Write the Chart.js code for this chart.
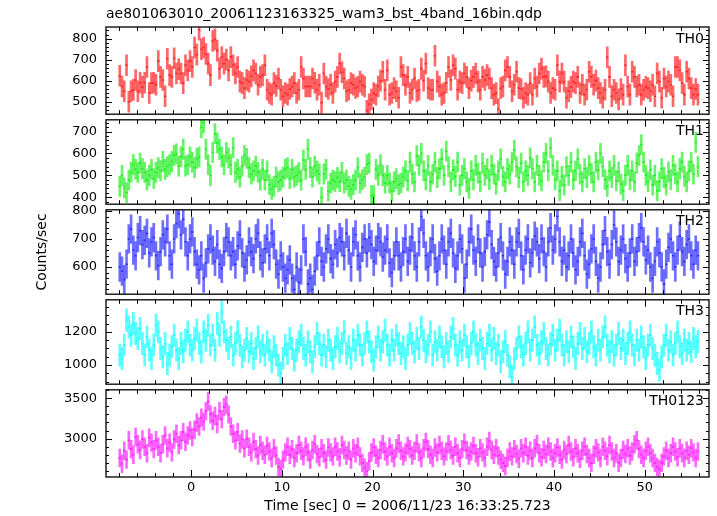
<!DOCTYPE html>
<html><head><meta charset="utf-8">
<script src="https://cdn.jsdelivr.net/npm/chart.js@4.4.1/dist/chart.umd.min.js"></script>
<style>
html,body{margin:0;padding:0;background:#fff;}
#wrap{position:relative;width:717px;height:516px;overflow:hidden;background:#fff;}
#wrap canvas{position:absolute;left:0;}
</style></head><body><div id="wrap"></div>
<script>
// ---------- data ----------
const chartTitle = "ae801063010_20061123163325_wam3_bst_4band_16bin.qdp";
const xAxisTitle = "Time [sec] 0 = 2006/11/23 16:33:25.723";
const yAxisTitle = "Counts/sec";
const bandNames = ["TH0", "TH1", "TH2", "TH3", "TH0123"];
const timeStart = -8;      // start of first bin (s)
const binWidth = 0.25;     // bin width (s)
const th0 = [
623,572,549,673,499,549,556,603,549,590,570,
590,665,541,588,590,580,693,618,603,525,
704,626,618,707,634,655,
634,588,673,649,693,
665,758,724,843,750,758,727,681,626,789,
797,743,657,712,681,700,
649,712,673,634,665,
595,588,564,603,595,620,
649,634,580,618,626,
673,556,541,533,588,575,
610,556,525,541,533,560,
572,588,541,556,665,610,572,572,572,610,590,
556,580,495,634,572,560,
580,541,595,618,681,640,
610,549,556,588,580,565,
572,595,580,572,456,
487,510,541,533,572,600,
642,556,649,533,541,564,549,518,665,626,
580,618,541,556,610,549,556,657,600,681,564,
556,556,719,595,572,533,541,590,665,603,673,
657,556,595,588,634,618,564,600,618,634,595,
556,618,603,626,610,564,533,540,463,564,572,
649,665,618,549,580,642,564,560,518,541,533,
588,533,610,572,634,657,618,620,595,541,564,
556,673,595,634,595,518,549,570,595,588,618,
541,580,533,556,642,618,580,600,564,541,518,
556,711,618,525,556,541,510,560,533,673,572,
533,642,618,572,580,533,556,570,564,549,580,
525,634,595,518,610,572,595,580,525,665,665,
649,588,533,642,610,564,533,560,533
];
const th1 = [
450,499,443,421,478,513,549,527,513,556,530,
513,478,499,527,485,513,535,520,563,527,540,
549,563,591,598,542,584,619,542,549,584,560,
535,577,584,718,740,619,549,499,605,690,
648,619,584,549,605,580,549,626,513,527,492,
542,591,577,535,506,520,542,513,478,527,478,
520,457,436,450,492,470,478,492,527,535,485,
527,492,500,513,478,570,527,619,535,492,542,520,
506,400,506,527,428,464,478,471,490,471,513,
464,478,450,436,457,478,535,464,480,492,549,
556,407,407,527,500,549,499,464,499,464,428,470,
485,457,464,492,
520,475,560,505,470,590,545,600,520,480,545,470,505,560,490,530,
575,500,610,540,470,525,495,560,455,500,530,470,440,520,480,545,
510,470,555,500,530,480,545,505,460,520,575,495,470,530,505,560,
615,540,490,555,470,520,500,580,530,470,545,500,475,560,600,520,
625,545,480,520,430,495,455,540,500,560,480,520,575,505,470,530,
490,545,510,470,560,525,600,540,480,450,520,490,545,475,515,460,
430,500,545,480,520,470,555,590,640,560,500,470,525,455,500,430,
470,530,490,455,515,480,545,505,470,530,560,495,470,520,560,505,
650,540
];
const th2 = [
600,585,555,610,700,735,660,640,705,730,680,695,720,650,690,705,
640,605,655,715,690,735,640,610,700,755,790,715,770,690,640,700,
725,655,610,590,640,560,615,665,700,660,620,680,610,595,655,705,
690,640,655,610,675,715,650,600,625,690,655,630,700,720,640,615,
665,700,640,720,680,610,575,640,600,560,590,625,560,520,600,545,
590,700,655,540,560,520,585,640,690,620,600,665,700,630,610,680,
650,705,690,640,720,660,600,690,715,640,600,670,700,650,705,680,
620,660,705,690,635,660,700,615,580,640,690,640,600,655,700,620,
660,705,640,600,690,780,720,640,600,655,700,630,585,640,700,660,
610,690,720,650,595,640,700,665,560,610,690,735,660,620,700,650,
600,655,715,760,680,620,600,650,705,640,575,620,690,660,610,690,
720,640,590,660,700,615,650,710,690,630,700,655,600,690,740,660,
700,780,690,620,660,600,640,700,650,590,620,690,720,640,575,610,
665,700,620,560,600,680,730,655,610,680,750,690,620,660,700,630,
600,650,700,620,655,705,740,690,625,660,600,560,620,690,650,600,
540,610,670,700,640,600,660,710,655,620,680,700,640,610,660,640
];
const th3 = [
1060,1040,1120,1270,1230,1180,1250,1190,1160,1220,1130,1060,1170,1090,1040,1120,
1240,1200,1100,1050,1130,1010,1060,1110,1180,1090,1040,1130,1080,1150,1200,1120,
1090,1160,1210,1130,1080,1200,1150,1240,1120,1180,1090,1250,1180,1320,1200,1150,
1100,1170,1060,1130,1200,1120,1050,1090,1160,1080,1130,1040,1100,1170,1080,1120,
1060,1140,1090,1020,1110,1060,1000,950,1040,1120,1070,1160,1100,1030,1090,1140,
1180,1100,1060,1140,1080,1020,1110,1190,1130,1060,1120,1050,1150,1090,1040,1110,
1160,1080,1130,1200,1070,1110,1040,1150,1090,1180,1120,1060,1130,1200,1140,1080,
1030,1110,1170,1090,1140,1210,1120,1060,1150,1090,1180,1130,1070,1110,1040,1120,
1190,1130,1080,1160,1100,1230,1150,1080,1120,1200,1060,1140,1090,1170,1110,1050,
1130,1080,1170,1220,1120,1060,1140,1090,1180,1110,1050,1130,1200,1120,1070,1150,
1100,1040,1130,1180,1090,1160,1070,1120,1020,1080,1140,1060,990,930,1040,1100,
1170,1110,1060,1130,1200,1090,1150,1230,1120,1070,1140,1190,1100,1060,1130,1180,
1090,1150,1210,1120,1060,1140,1080,1170,1110,1040,1130,1190,1100,1160,1080,1130,
1200,1110,1060,1150,1090,1170,1230,1120,1080,1140,1060,1120,1190,1100,1150,1070,
1130,1200,1120,1060,1150,1090,1170,1110,1040,1120,1180,1100,1060,1010,970,1050,
1120,1180,1090,1140,1060,1130,1200,1110,1070,1150,1090,1130,1080,1160,1110,1140
];
const th0123 = [
2760,2690,2850,2740,2980,2870,2800,3020,2930,2860,2990,2900,2820,3010,2950,2870,
2980,2900,2820,2930,3040,2880,2950,2830,2990,3060,2920,2980,3080,2960,3040,3100,
3020,3110,3200,3150,3260,3210,3340,3460,3300,3220,3280,3180,3340,3240,3390,3420,
3300,3150,3060,2980,3080,2940,2990,2880,3000,2900,2830,2960,2870,2790,2920,2850,
2800,2910,2840,2760,2880,2790,2650,2620,2740,2830,2900,2800,2870,2760,2820,2920,
2850,2780,2900,2830,2740,2860,2930,2810,2770,2880,2820,2740,2890,2830,2780,2900,
2840,2770,2920,2860,2790,2850,2740,2880,2820,2900,2780,2700,2640,2600,2720,2830,
2890,2800,2760,2860,2930,2840,2780,2900,2820,2760,2880,2940,2850,2780,2830,2910,
2870,2790,2850,2940,2830,2760,2880,2960,2870,2800,2760,2890,2830,2920,2850,2780,
2840,2930,2860,2790,2900,2820,2760,2870,2950,2860,2790,2840,2910,2820,2770,2880,
2830,2760,2900,2970,2860,2800,2880,2790,2740,2700,2660,2760,2840,2780,2870,2810,
2750,2880,2820,2900,2790,2850,2760,2880,2930,2820,2770,2860,2810,2900,2840,2760,
2820,2890,2800,2740,2860,2810,2920,2840,2770,2880,2820,2750,2850,2900,2810,2760,
2700,2800,2880,2830,2760,2900,2850,2780,2920,2840,2760,2820,2700,2760,2860,2810,
2880,2790,2840,2930,2980,2870,2800,2760,2850,2900,2820,2760,2700,2650,2620,2700,
2780,2850,2760,2820,2900,2840,2770,2880,2820,2760,2850,2800,2880,2830,2760,2840
];
const errHalf = [50, 46, 51, 67, 110];          // typical 1-sigma error
const yMin = [439.5, 368, 503, 885, 2525];
const yMax = [856, 753.5, 804, 1393, 3604];
const yMajor = [100, 100, 100, 200, 500];
const yMinor = [20, 20, 20, 50, 100];
const xMin = -9.39, xMax = 57.09;
const xMajor = 10, xMinorStep = 2;

// ---------- styling / layout ----------
const series = [th0, th1, th2, th3, th0123];
const lineColors = ['rgb(255,20,20)', 'rgb(20,235,20)', 'rgb(30,30,255)', 'rgb(0,255,255)', 'rgb(255,20,255)'];
const barColors = ['rgba(255,40,40,0.7)', 'rgba(40,240,40,0.7)', 'rgba(50,50,255,0.7)', 'rgba(40,255,255,0.75)', 'rgba(255,40,255,0.7)'];
const panelTop = [27, 117, 207, 297, 387];
const panelH = 90;
const M = 14;
const FONT = '"DejaVu Sans", sans-serif';

const framePlugin = {
  id: 'frame',
  afterDatasetsDraw(chart, args, opts) {
    const ctx = chart.ctx, a = chart.chartArea, x = chart.scales.x, y = chart.scales.y;
    ctx.save();
    ctx.strokeStyle = '#000';
    ctx.lineWidth = 1;
    ctx.beginPath();
    for (let i = Math.ceil(xMin / xMinorStep); i * xMinorStep <= xMax; i++) {
      const v = i * xMinorStep;
      const px = Math.round(x.getPixelForValue(v)) + 0.5;
      const L = (v % xMajor === 0) ? 7 : 4;
      ctx.moveTo(px, a.top); ctx.lineTo(px, a.top + L);
      ctx.moveTo(px, a.bottom); ctx.lineTo(px, a.bottom - L);
    }
    for (let i = Math.ceil(y.min / opts.minor); i * opts.minor <= y.max; i++) {
      const v = i * opts.minor;
      const py = Math.round(y.getPixelForValue(v)) + 0.5;
      const L = (v % opts.major === 0) ? 6 : 3;
      ctx.moveTo(a.left, py); ctx.lineTo(a.left + L, py);
      ctx.moveTo(a.right, py); ctx.lineTo(a.right - L, py);
    }
    ctx.stroke();
    ctx.lineWidth = 1.4;
    ctx.strokeStyle = '#111';
    ctx.strokeRect(a.left, a.top, a.right - a.left, a.bottom - a.top);
    ctx.fillStyle = '#000';
    ctx.font = '14px ' + FONT;
    ctx.textAlign = 'right';
    ctx.textBaseline = 'alphabetic';
    ctx.fillText(opts.label, a.right - 5, a.top + 15.5);
    ctx.restore();
  }
};

function majorTicks(lo, hi, step) {
  const t = [];
  for (let k = Math.ceil(lo / step); k * step <= hi; k++) t.push({ value: k * step });
  return t;
}

const wrap = document.getElementById('wrap');
series.forEach((vals, i) => {
  const cv = document.createElement('canvas');
  const top = i === 0 ? 0 : panelTop[i] - M;
  const bottom = i === 4 ? 516 : panelTop[i] + panelH + M;
  const h = bottom - top;
  cv.width = 717; cv.height = h;
  cv.style.top = top + 'px';
  cv.style.width = '717px'; cv.style.height = h + 'px';
  wrap.appendChild(cv);
  const tc = (k) => timeStart + binWidth * (k + 0.5);
  const err = errHalf[i];
  const isBottom = i === 4;
  new Chart(cv, {
    type: 'bar',
    data: {
      datasets: [
        {
          type: 'bar',
          data: vals.map((v, k) => ({ x: tc(k), y: [v - err, v + err] })),
          backgroundColor: barColors[i],
          borderWidth: 0,
          barThickness: 2
        },
        {
          type: 'scatter',
          data: vals.map((v, k) => ({ x: tc(k), y: v })),
          showLine: false,
          pointStyle: 'line',
          borderColor: lineColors[i],
          backgroundColor: lineColors[i],
          borderWidth: 1.6,
          pointRadius: (c) => {
            const s = c.chart.scales.x;
            return Math.abs(s.getPixelForValue(binWidth) - s.getPixelForValue(0)) / 2;
          }
        }
      ]
    },
    options: {
      responsive: false,
      animation: false,
      events: [],
      layout: { padding: { left: 0, right: 8, top: i === 0 ? 0 : M, bottom: isBottom ? 0 : M } },
      plugins: {
        legend: { display: false },
        tooltip: { enabled: false },
        title: i === 0 ? {
          display: true, text: chartTitle, align: 'start', fullSize: false,
          color: '#000', font: { family: FONT, size: 14, weight: 'normal', lineHeight: 1.2 },
          padding: { top: 6, bottom: 4.2 }
        } : { display: false },
        frame: { label: bandNames[i], major: yMajor[i], minor: yMinor[i] }
      },
      scales: {
        x: {
          type: 'linear', min: xMin, max: xMax, offset: false,
          display: isBottom,
          grid: { display: false, drawTicks: false },
          border: { display: false },
          ticks: {
            maxRotation: 0, autoSkip: false,
            color: '#000', font: { family: FONT, size: 13 }, padding: 3,
            callback: (v) => String(v)
          },
          afterBuildTicks: (s) => { s.ticks = majorTicks(xMin, xMax, xMajor); },
          title: {
            display: isBottom, text: xAxisTitle, color: '#000',
            font: { family: FONT, size: 14, lineHeight: 1.2 }, padding: { top: 0, bottom: 1.6 }
          },
          afterFit: (s) => { s.height = isBottom ? 39 : 0; }
        },
        y: {
          type: 'linear', min: yMin[i], max: yMax[i],
          grid: { display: false, drawTicks: false },
          border: { display: false },
          ticks: {
            autoSkip: false,
            color: '#000', font: { family: FONT, size: 13 }, padding: 9,
            callback: (v) => String(v)
          },
          afterBuildTicks: (s) => { s.ticks = majorTicks(yMin[i], yMax[i], yMajor[i]); },
          title: {
            display: i === 2, text: yAxisTitle, color: '#000',
            font: { family: FONT, size: 14, lineHeight: 1.2 }, padding: { top: 33.5, bottom: 0 }
          },
          afterFit: (s) => { s.width = 106; }
        }
      }
    },
    plugins: [framePlugin]
  });
});
</script></body></html>
